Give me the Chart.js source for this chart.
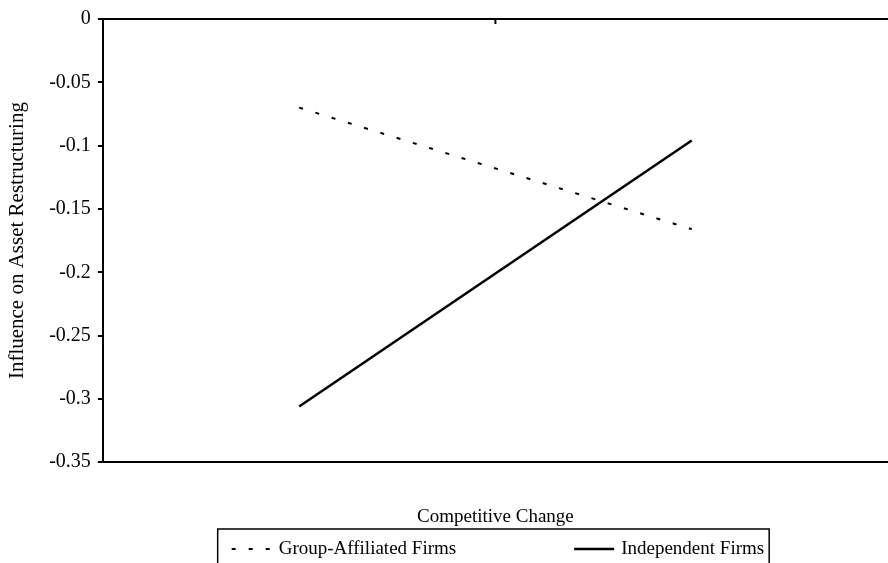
<!DOCTYPE html>
<html>
<head>
<meta charset="utf-8">
<script src="https://cdn.jsdelivr.net/npm/chart.js@4.4.1/dist/chart.umd.min.js"></script>
<style>
  html, body { margin: 0; padding: 0; background: #fff; }
  #wrap { width: 888px; height: 563px; }
</style>
</head>
<body>
<div id="wrap"><canvas id="chart" width="888" height="563"></canvas></div>
<script>
// data
const categories = ['Low', 'High'];
const groupAffiliated = [-0.070, -0.166];
const independent = [-0.306, -0.096];
const yTicks = { min: -0.35, max: 0, step: 0.05 };

const serif = '"Liberation Serif", "Times New Roman", serif';

// small tick at the middle of the zero line (between the two categories)
const midTick = {
  id: 'midTick',
  afterDraw(chart) {
    const x = chart.scales.x, y = chart.scales.y;
    const cx = (x.getPixelForValue(0) + x.getPixelForValue(1)) / 2;
    const y0 = y.getPixelForValue(0);
    const ctx = chart.ctx;
    ctx.save();
    ctx.strokeStyle = '#000';
    ctx.lineWidth = 2;
    ctx.beginPath();
    ctx.moveTo(cx, y0);
    ctx.lineTo(cx, y0 + 5);
    ctx.stroke();
    ctx.restore();
  }
};

// boxed legend like the excel one, centred under the plot
const boxLegend = {
  id: 'boxLegend',
  afterDraw(chart) {
    const ctx = chart.ctx;
    const area = chart.chartArea;
    const sampleW = 40, textGap = 7, itemGap = 118, padL = 14, padR = 5;
    ctx.save();
    ctx.font = '19px ' + serif;
    const items = chart.data.datasets.map(ds => ({ ds: ds, w: ctx.measureText(ds.label).width }));
    let total = 0;
    items.forEach((it, i) => { total += sampleW + textGap + it.w + (i > 0 ? itemGap : 0); });
    const boxW = total + padL + padR;
    const left = (area.left + area.right) / 2 - boxW / 2 - 2;
    const midY = chart.height - 14;
    ctx.strokeStyle = '#000';
    ctx.lineWidth = 1.5;
    ctx.strokeRect(left, chart.height - 34, boxW, 40);
    let x = left + padL;
    ctx.textBaseline = 'middle';
    ctx.fillStyle = '#000';
    items.forEach(it => {
      ctx.beginPath();
      ctx.setLineDash(it.ds.borderDash || []);
      ctx.lineWidth = it.ds.borderWidth;
      ctx.moveTo(x, midY);
      ctx.lineTo(x + sampleW, midY);
      ctx.stroke();
      ctx.setLineDash([]);
      ctx.fillText(it.ds.label, x + sampleW + textGap, midY);
      x += sampleW + textGap + it.w + itemGap;
    });
    ctx.restore();
  }
};

new Chart(document.getElementById('chart'), {
  type: 'line',
  data: {
    labels: categories,
    datasets: [{
      label: 'Group-Affiliated Firms',
      data: groupAffiliated,
      borderColor: '#000',
      borderWidth: 2,
      borderDash: [4, 13],
      pointRadius: 0,
      tension: 0
    }, {
      label: 'Independent Firms',
      data: independent,
      borderColor: '#000',
      borderWidth: 2.5,
      pointRadius: 0,
      tension: 0
    }]
  },
  options: {
    responsive: false,
    animation: false,
    layout: { padding: { top: 17, right: 0, bottom: 35, left: 0 } },
    plugins: {
      legend: { display: false },
      tooltip: { enabled: false }
    },
    scales: {
      x: {
        type: 'category',
        offset: true,
        grid: { display: false },
        border: { display: true, color: '#000', width: 2 },
        ticks: { display: false },
        title: {
          display: true,
          text: 'Competitive Change',
          color: '#000',
          font: { family: serif, size: 19 },
          padding: { top: 35, bottom: 0 }
        }
      },
      y: {
        min: yTicks.min,
        max: yTicks.max,
        ticks: {
          stepSize: yTicks.step,
          color: '#000',
          padding: 7,
          font: { family: serif, size: 20 },
          callback: v => String(Number(v.toFixed(2)))
        },
        grid: {
          color: ctx => (ctx.tick && ctx.tick.value === 0 ? '#000' : 'rgba(0,0,0,0)'),
          tickColor: '#000',
          tickLength: 5,
          lineWidth: 2
        },
        border: { display: true, color: '#000', width: 2 },
        title: {
          display: true,
          text: 'Influence on Asset Restructuring',
          color: '#000',
          font: { family: serif, size: 21 },
          padding: { top: 5, bottom: 12 }
        }
      }
    }
  },
  plugins: [midTick, boxLegend]
});
</script>
</body>
</html>
